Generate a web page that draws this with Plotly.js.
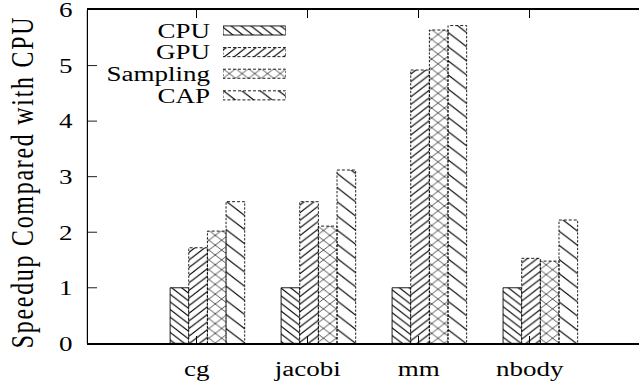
<!DOCTYPE html>
<html><head><meta charset="utf-8">
<script src="https://cdn.plot.ly/plotly-3.0.1.min.js"></script>
<style>
html,body{margin:0;padding:0;overflow:hidden;background:#fff;width:639px;height:388px}
#wrap{width:639px;height:504px;transform:scaleY(0.7698);transform-origin:0 0}
</style></head><body>
<div id="wrap"><div id="chart" style="width:639px;height:504px"></div></div>
<script>
// ---- data ----
const categories = ['cg', 'jacobi', 'mm', 'nbody'];
const seriesNames = ['CPU', 'GPU', 'Sampling', 'CAP'];
const cpu = [1.0, 1.0, 1.0, 1.0];
const gpu = [1.72, 2.55, 4.92, 1.53];
const sampling = [2.02, 2.11, 5.64, 1.48];
const cap = [2.55, 3.12, 5.72, 2.22];
const yTicks = [0, 1, 2, 3, 4, 5, 6];

// ---- styles ----
const seriesValues = [cpu, gpu, sampling, cap];
const offsets = [-0.24, -0.072, 0.096, 0.264];
const barW = 0.168;
const patterns = [
  {shape: '\\', size: 7, solidity: 0.18},
  {shape: '/', size: 7, solidity: 0.18},
  {shape: 'x', size: 9, solidity: 0.16},
  {shape: '\\', size: 13, solidity: 0.1}
];
const dashed = [false, true, true, true];
const FONT = 'Liberation Serif';

const xs = categories.map((_, i) => i);
const traces = [];
seriesValues.forEach((vals, k) => {
  traces.push({
    type: 'bar', name: seriesNames[k], x: xs, y: vals,
    offset: offsets[k], width: barW,
    marker: {
      color: 'white',
      pattern: Object.assign({fgcolor: 'black', bgcolor: 'white', fgopacity: 1, fillmode: 'replace'}, patterns[k]),
      line: {color: 'black', width: dashed[k] ? 0 : 1}
    },
    hoverinfo: 'skip', showlegend: false
  });
});
// dashed outlines
seriesValues.forEach((vals, k) => {
  if (!dashed[k]) return;
  const ox = [], oy = [];
  vals.forEach((v, i) => {
    const x0 = i + offsets[k], x1 = x0 + barW;
    ox.push(x0, x0, x1, x1, null);
    oy.push(0, v, v, 0, null);
  });
  traces.push({type: 'scatter', mode: 'lines', x: ox, y: oy,
    line: {color: 'black', width: 1, dash: '3px,2px'}, hoverinfo: 'skip', showlegend: false});
});
// legend samples (inset axes)
const legY = seriesNames.map((_, k) => k);
const legH = 0.42;
seriesNames.forEach((nm, k) => {
  traces.push({
    type: 'bar', orientation: 'h', x: [1], y: [k], base: 0, width: legH,
    xaxis: 'x2', yaxis: 'y2',
    marker: {
      color: 'white',
      pattern: Object.assign({fgcolor: 'black', bgcolor: 'white', fgopacity: 1, fillmode: 'replace'}, patterns[k]),
      line: {color: 'black', width: dashed[k] ? 0 : 1}
    },
    hoverinfo: 'skip', showlegend: false
  });
  if (dashed[k]) {
    traces.push({type: 'scatter', mode: 'lines', xaxis: 'x2', yaxis: 'y2',
      x: [0, 1, 1, 0, 0], y: [k - legH / 2, k - legH / 2, k + legH / 2, k + legH / 2, k - legH / 2],
      line: {color: 'black', width: 1, dash: '3px,2px'}, hoverinfo: 'skip', showlegend: false});
  }
});

const layout = {
  width: 639, height: 504, autosize: false,
  margin: {l: 88, r: 0, t: 13, b: 58},
  paper_bgcolor: 'white', plot_bgcolor: 'white',
  showlegend: false, barmode: 'overlay',
  font: {family: FONT, size: 27, color: 'black'},
  xaxis: {
    range: [-0.98, 3.985], tickvals: xs, ticktext: categories,
    ticks: 'inside', ticklen: 10, tickwidth: 1.3, tickcolor: 'black',
    showline: true, linewidth: 2, linecolor: 'black', mirror: 'ticks',
    showgrid: false, zeroline: false, ticklabelstandoff: 8,
    tickfont: {family: FONT, size: 27}
  },
  yaxis: {
    range: [0, 6], tickvals: yTicks, ticklabeloverflow: 'allow',
    ticks: 'inside', ticklen: 9, tickwidth: 1, tickcolor: 'black',
    showline: true, linewidth: 1.2, linecolor: 'black', mirror: false,
    showgrid: false, zeroline: false, ticklabelstandoff: 9,
    tickfont: {family: FONT, size: 27},
    title: {text: 'Speedup Compared with CPU', font: {family: FONT, size: 31}, standoff: 16}
  },
  xaxis2: {domain: [0.245, 0.359], anchor: 'y2', range: [0, 1],
    showline: false, showticklabels: false, showgrid: false, zeroline: false, ticks: ''},
  yaxis2: {domain: [0.7115, 0.971], anchor: 'x2', range: [3.5, -0.5],
    tickvals: legY, ticktext: seriesNames, ticks: '', ticklabelstandoff: 12,
    ticklabeloverflow: 'allow',
    tickfont: {family: FONT, size: 27},
    showline: false, showgrid: false, zeroline: false}
};

Plotly.newPlot('chart', traces, layout, {staticPlot: true, displayModeBar: false}).then(gd => {
  const t = gd.querySelector('.ytitle');
  if (t) {
    t.style.letterSpacing = '2.3px';
    const tr = t.getAttribute('transform') || '';
    t.setAttribute('transform', tr + ' translate(-7,0)');
  }
});
</script>
</body></html>
